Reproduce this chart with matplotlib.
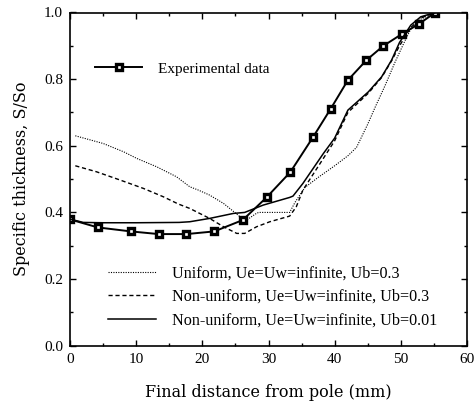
import matplotlib
matplotlib.use("Agg")
import matplotlib.pyplot as plt
from matplotlib.ticker import MultipleLocator

# values
exp_x = [0, 4.2, 9.2, 13.4, 17.6, 21.8, 26.1, 29.7, 33.3, 36.7, 39.4, 42.0,
         44.8, 47.3, 50.2, 52.7, 55.2]
exp_y = [0.379, 0.355, 0.343, 0.335, 0.335, 0.343, 0.377, 0.445, 0.521, 0.625,
         0.711, 0.797, 0.857, 0.899, 0.936, 0.965, 1.0]

uni_x = [0.8, 5.0, 8.1, 10.1, 13.1, 16.1, 18.1, 19.4, 21.1, 23.2, 25.7, 26.7,
         28.0, 28.5, 33.2, 34.0, 35.5, 37.5, 40.0, 42.0, 43.3, 45.0, 46.1, 47.6,
         49.1, 50.5, 51.5, 53.0, 55.2]
uni_y = [0.630, 0.607, 0.582, 0.562, 0.537, 0.507, 0.477, 0.467, 0.452, 0.427,
         0.387, 0.377, 0.395, 0.400, 0.400, 0.430, 0.475, 0.505, 0.540, 0.570,
         0.595, 0.665, 0.715, 0.780, 0.850, 0.910, 0.950, 0.980, 1.0]

dash_x = [0.8, 4.0, 7.6, 11.1, 14.1, 16.4, 18.1, 21.1, 23.2, 25.2, 26.4, 28.2,
          30.2, 33.2, 34.2, 35.2, 37.8, 40.0, 42.0, 45.1, 47.1, 48.6, 49.8, 51.5,
          53.2, 55.2]
dash_y = [0.540, 0.522, 0.497, 0.472, 0.447, 0.425, 0.412, 0.382, 0.357, 0.337,
          0.337, 0.357, 0.372, 0.389, 0.417, 0.467, 0.547, 0.615, 0.700, 0.758,
          0.805, 0.855, 0.900, 0.955, 0.985, 1.0]

sol_x = [0, 2, 5, 10, 16.5, 18.1, 21.1, 24.7, 26.4, 29.2, 33.2, 33.7, 35.2,
         38.3, 40.0, 42.0, 45.1, 47.1, 48.6, 49.8, 51.5, 53.0, 55.2]
sol_y = [0.380, 0.370, 0.369, 0.369, 0.370, 0.372, 0.382, 0.397, 0.400, 0.422,
         0.445, 0.449, 0.487, 0.577, 0.623, 0.707, 0.762, 0.807, 0.857, 0.910,
         0.962, 0.987, 1.0]

exp_label = "Experimental data"
model_labels = ["Uniform, Ue=Uw=infinite, Ub=0.3",
                "Non-uniform, Ue=Uw=infinite, Ub=0.3",
                "Non-uniform, Ue=Uw=infinite, Ub=0.01"]

plt.rcParams['font.family'] = ['Liberation Serif', 'DejaVu Serif']

fig = plt.figure(figsize=(4.76, 4.04), dpi=100)
ax = fig.add_axes([70 / 476, 1 - 345.7 / 404, 397 / 476, 333.2 / 404])

exp_line, = ax.plot(exp_x, exp_y, color='black', lw=1.4, marker='s', ms=4.0,
                    mfc='white', mec='black', mew=2.4)
l1, = ax.plot(uni_x, uni_y, color='black', lw=0.8, linestyle=(0, (1, 1.2)))
l2, = ax.plot(dash_x, dash_y, color='black', lw=1.0, linestyle=(0, (3, 2)))
l3, = ax.plot(sol_x, sol_y, color='black', lw=1.1)

ax.set_xlim(0, 60)
ax.set_ylim(0, 1.0)
ax.xaxis.set_major_locator(MultipleLocator(10))
ax.xaxis.set_minor_locator(MultipleLocator(5))
ax.yaxis.set_major_locator(MultipleLocator(0.2))
ax.yaxis.set_minor_locator(MultipleLocator(0.1))
ax.xaxis.set_major_formatter(lambda v, p: f"{v:.0f}")
ax.yaxis.set_major_formatter(lambda v, p: f"{v:.1f}")
ax.tick_params(which='both', direction='in', top=True, right=True, width=1.0)
ax.tick_params(which='major', length=4, labelsize=11, pad=5)
ax.tick_params(which='minor', length=2.5)
for s in ax.spines.values():
    s.set_linewidth(1.2)

ax.set_xlabel("Final distance from pole (mm)", family='DejaVu Serif',
              fontsize=11.5, labelpad=13)
ax.set_ylabel("Specific thickness, S/So", family='DejaVu Serif',
              fontsize=11.5, labelpad=10)

leg1 = ax.legend([exp_line], [exp_label], loc='upper left',
                 bbox_to_anchor=(0.063, 0.852), frameon=False, fontsize=11,
                 borderpad=0, borderaxespad=0, handlelength=3.1,
                 handletextpad=1.0, numpoints=1)
ax.add_artist(leg1)
ax.legend([l1, l2, l3], model_labels, loc='upper left',
          bbox_to_anchor=(0.096, 0.240), frameon=False, fontsize=11.6,
          borderpad=0, borderaxespad=0, handlelength=3.0,
          handletextpad=0.95, labelspacing=0.45)

fig.savefig("out.png", dpi=100)
